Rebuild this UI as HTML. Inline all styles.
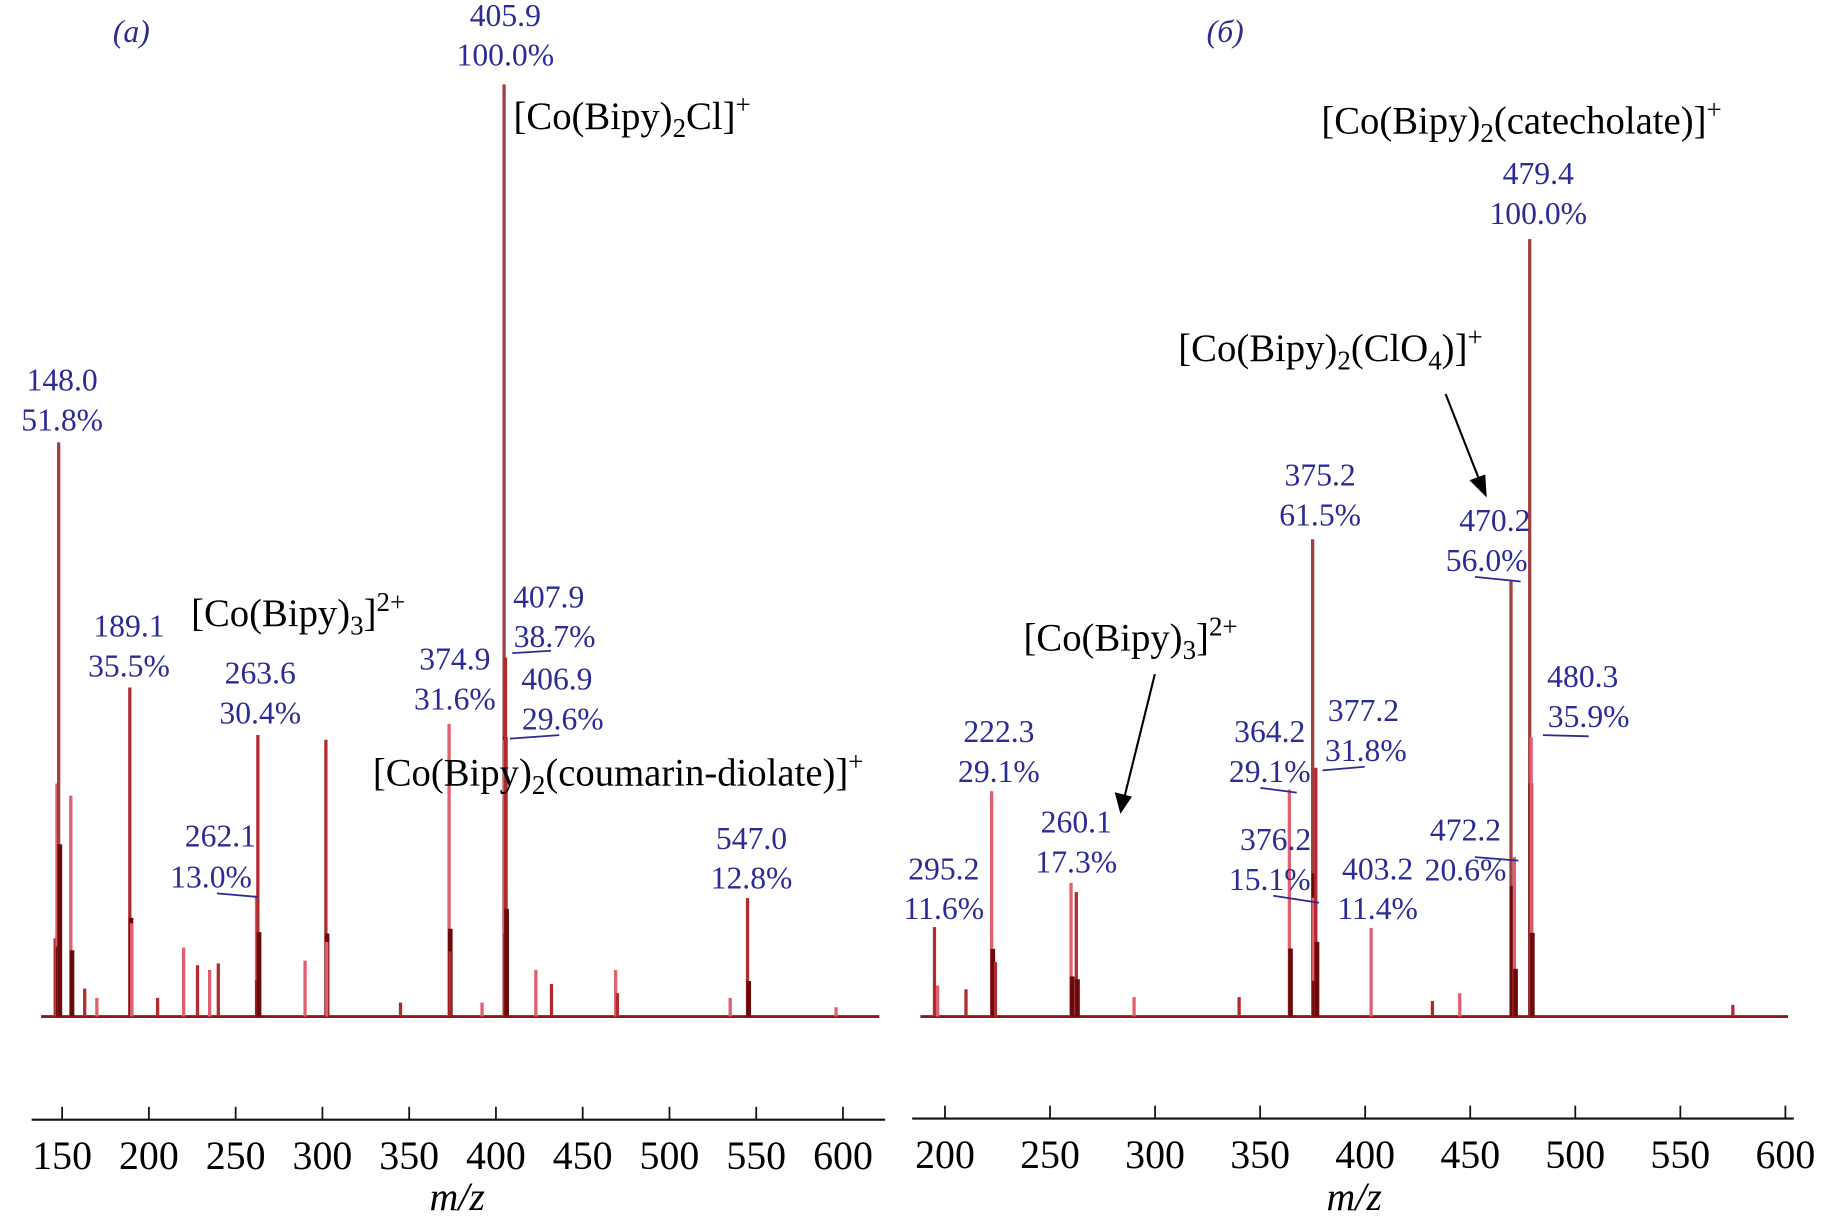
<!DOCTYPE html>
<html><head><meta charset="utf-8"><style>
html,body{margin:0;padding:0;background:#fff}
svg{display:block}
text{font-family:"Liberation Serif",serif}
.n{fill:#2b2b96;font-size:27px;text-anchor:middle}
.f{fill:#000;font-size:33px}
.t{fill:#000;font-size:34px;text-anchor:middle}
</style></head><body>
<svg id="chart" width="1829" height="1225" viewBox="0 0 1560 1044.8" preserveAspectRatio="none" xmlns="http://www.w3.org/2000/svg">
<g id="gA"></g>
<g id="gB"></g>
<g>
<text class="n" x="112" y="36" font-style="italic">(a)</text>
<text class="n" x="1045" y="36" font-style="italic">(б)</text>
<text class="n" x="431" y="22">405.9</text><text class="n" x="431" y="56">100.0%</text>
<text class="f" x="438" y="110">[Co(Bipy)<tspan font-size="23" dy="7">2</tspan><tspan dy="-7">Cl]</tspan><tspan font-size="23" dy="-13">+</tspan></text>
<text class="n" x="53" y="333">148.0</text><text class="n" x="53" y="367">51.8%</text>
<text class="n" x="110" y="543">189.1</text><text class="n" x="110" y="577">35.5%</text>
<text class="f" x="163" y="534">[Co(Bipy)<tspan font-size="23" dy="7">3</tspan><tspan dy="-7">]</tspan><tspan font-size="23" dy="-13">2+</tspan></text>
<text class="n" x="222" y="583">263.6</text><text class="n" x="222" y="617">30.4%</text>
<text class="n" x="188" y="722">262.1</text><text class="n" x="180" y="757">13.0%</text>
<text class="n" x="388" y="571">374.9</text><text class="n" x="388" y="605">31.6%</text>
<text class="n" x="468" y="518">407.9</text><text class="n" x="473" y="552">38.7%</text>
<text class="n" x="475" y="588">406.9</text><text class="n" x="480" y="622">29.6%</text>
<text class="f" x="318" y="670">[Co(Bipy)<tspan font-size="23" dy="7">2</tspan><tspan dy="-7">(coumarin-diolate)]</tspan><tspan font-size="23" dy="-13">+</tspan></text>
<text class="n" x="641" y="724">547.0</text><text class="n" x="641" y="758">12.8%</text>
<text class="f" x="1127" y="114">[Co(Bipy)<tspan font-size="23" dy="7">2</tspan><tspan dy="-7">(catecholate)]</tspan><tspan font-size="23" dy="-13">+</tspan></text>
<text class="n" x="1312" y="157">479.4</text><text class="n" x="1312" y="191">100.0%</text>
<text class="f" x="1005" y="308">[Co(Bipy)<tspan font-size="23" dy="7">2</tspan><tspan dy="-7">(ClO</tspan><tspan font-size="23" dy="7">4</tspan><tspan dy="-7">)]</tspan><tspan font-size="23" dy="-13">+</tspan></text>
<text class="n" x="1275" y="453">470.2</text><text class="n" x="1268" y="487">56.0%</text>
<text class="n" x="1126" y="414">375.2</text><text class="n" x="1126" y="448">61.5%</text>
<text class="f" x="873" y="555">[Co(Bipy)<tspan font-size="23" dy="7">3</tspan><tspan dy="-7">]</tspan><tspan font-size="23" dy="-13">2+</tspan></text>
<text class="n" x="852" y="633">222.3</text><text class="n" x="852" y="667">29.1%</text>
<text class="n" x="918" y="710">260.1</text><text class="n" x="918" y="744">17.3%</text>
<text class="n" x="805" y="750">295.2</text><text class="n" x="805" y="784">11.6%</text>
<text class="n" x="1083" y="633">364.2</text><text class="n" x="1083" y="667">29.1%</text>
<text class="n" x="1163" y="615">377.2</text><text class="n" x="1165" y="649">31.8%</text>
<text class="n" x="1088" y="725">376.2</text><text class="n" x="1083" y="759">15.1%</text>
<text class="n" x="1175" y="750">403.2</text><text class="n" x="1175" y="784">11.4%</text>
<text class="n" x="1250" y="717">472.2</text><text class="n" x="1250" y="751">20.6%</text>
<text class="n" x="1350" y="586">480.3</text><text class="n" x="1355" y="620">35.9%</text>
<g stroke="#2b2b96" stroke-width="1.5">
<line x1="185" y1="762" x2="220" y2="765"/><line x1="437" y1="557" x2="470" y2="555"/><line x1="435" y1="630" x2="477" y2="627"/>
<line x1="1258" y1="492" x2="1297" y2="496"/><line x1="1075" y1="672" x2="1106" y2="676"/><line x1="1128" y1="657" x2="1164" y2="654"/>
<line x1="1086" y1="764" x2="1125" y2="770"/><line x1="1258" y1="731" x2="1295" y2="734"/><line x1="1316" y1="627" x2="1355" y2="628"/>
</g>
<g stroke="#000" stroke-width="1.8" fill="#000">
<line x1="1233" y1="336" x2="1262" y2="410"/><polygon points="1267,422 1255,410 1266,406"/>
<line x1="985" y1="575" x2="959" y2="680"/><polygon points="956,692 952,677 964,680"/>
</g>
</g>
<text class="t" x="390" y="1032" font-style="italic">m/z</text>
<text class="t" x="1155" y="1032" font-style="italic">m/z</text>
</svg>
<script>
// Panel A data
const mzA  = [146,147,148,155,163,170,189,190,205,220,228,235,240,262,262.8,290,302,302.5,345,373,373.5,392,404.7,405,405.5,423,432,469,470,535,545,596];
const intA = [8.4,25,61.6,23.7,3,2,35.3,10,2,7.4,5.5,5,5.7,13,30.2,6,29.7,8,1.5,31.4,7,1.5,100,29.7,38.5,5,3.5,5,2.5,2,12.7,1];
// Panel B data
const mzB  = [195,196.5,210,222.2,224,260,262.5,290,340,363.9,375,375.3,376.5,402.8,432,445,469.4,471,478.3,479,575];
const intB = [11.5,4,3.5,29,7,17.2,16,2.5,2.5,29.2,61.4,15.3,32,11.4,2,3,56,20.5,100,35.9,1.5];
const ticksA = [150,200,250,300,350,400,450,500,550,600];
const ticksB = [200,250,300,350,400,450,500,550,600];

const NS="http://www.w3.org/2000/svg";
function mk(tag,attrs,parent){const e=document.createElementNS(NS,tag);for(const k in attrs)e.setAttribute(k,attrs[k]);parent.appendChild(e);return e;}
const xA=m=>53+(m-150)*74/50, yA=v=>867-v*7.95;
const xB=m=>806+(m-200)*89.6/50, yB=v=>867-v*6.63;
function panel(g,mz,inten,xf,yf,ticks,ax0,ax1,axY,name){
  mk('line',{x1:xf(mz[0])-12,y1:867,x2:ax1-5,y2:867,stroke:'#8b1a1a','stroke-width':2.5},g);
  mz.forEach((m,i)=>{
    const l=mk('line',{x1:xf(m),y1:867,x2:xf(m),y2:yf(inten[i]),stroke:inten[i]>40?'#a0403f':(i%2?'#e06070':'#b02a30'),'stroke-width':2.8},g);
    
    
    if(inten[i]>12){mk('line',{x1:xf(m)+1,y1:867,x2:xf(m)+1,y2:yf(Math.min(inten[i]*0.3,30)),stroke:'#6a0a0a','stroke-width':4},g);}
  });
  const ax=mk('line',{x1:ax0,y1:axY,x2:ax1,y2:axY,stroke:'#111','stroke-width':1.8},g);
  
  
  ticks.forEach(t=>{
    mk('line',{x1:xf(t),y1:axY,x2:xf(t),y2:axY-11,stroke:'#111','stroke-width':1.5},g);
    const tx=mk('text',{x:xf(t),y:axY+42,'font-size':34,'text-anchor':'middle',fill:'#000'},g);
    tx.textContent=t;
    
    
  });
}
panel(document.getElementById('gA'),mzA,intA,xA,yA,ticksA,27,755,955,'panel-a');
panel(document.getElementById('gB'),mzB,intB,xB,yB,ticksB,778,1530,954,'panel-b');
</script>
</body></html>
